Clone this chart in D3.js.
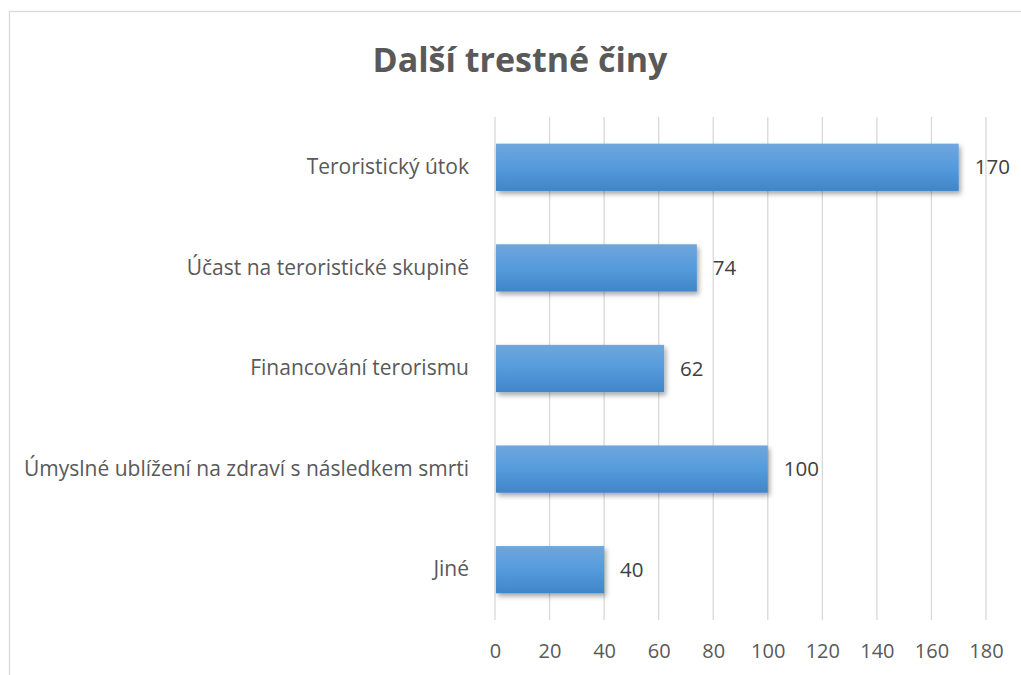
<!DOCTYPE html>
<html>
<head>
<meta charset="utf-8">
<script src="https://cdn.jsdelivr.net/npm/d3@7"></script>
<style>
  body { margin: 0; background: #fff; }
  svg { display: block; font-family: "Open Sans", sans-serif; }
</style>
</head>
<body>
<div class="chart-div"></div>
<script>
'use strict';

var categories = ["Teroristický útok", "Účast na teroristické skupině", "Financování terorismu",
                  "Úmyslné ublížení na zdraví s následkem smrti", "Jiné"];
var values = [170, 74, 62, 100, 40];
var ticks = [0, 20, 40, 60, 80, 100, 120, 140, 160, 180];
var title = "Další trestné činy";

var width = 1021;
var height = 675;
var plot = {left: 495, right: 986, top: 117, bottom: 620};

function drawChart() {
    var svg = d3.select(".chart-div").append("svg")
        .attr("width", width)
        .attr("height", height);

    // gradient + shadow for the bars
    var defs = svg.append("defs");
    var grad = defs.append("linearGradient")
        .attr("id", "barGrad").attr("x1", 0).attr("y1", 0).attr("x2", 0).attr("y2", 1);
    grad.append("stop").attr("offset", "0%").attr("stop-color", "#6fa6dd");
    grad.append("stop").attr("offset", "50%").attr("stop-color", "#559bdc");
    grad.append("stop").attr("offset", "100%").attr("stop-color", "#3f86c8");

    var shadow = defs.append("filter").attr("id", "shadow")
        .attr("x", "-10%").attr("y", "-20%").attr("width", "130%").attr("height", "160%");
    shadow.append("feDropShadow")
        .attr("dx", 2).attr("dy", 3).attr("stdDeviation", 2.5)
        .attr("flood-color", "#000").attr("flood-opacity", 0.35);

    // chart border
    svg.append("rect")
        .attr("x", 9.5).attr("y", 11.5)
        .attr("width", width + 20).attr("height", height + 20)
        .attr("fill", "none").attr("stroke", "#d9d9d9").attr("stroke-width", 1.3);

    var x = d3.scaleLinear().domain([0, 180]).range([plot.left, plot.right]);
    var y = d3.scaleBand().domain(categories).range([plot.top, plot.bottom]).paddingInner(0.53).paddingOuter(0.265);

    // gridlines
    svg.append("g").selectAll("line")
        .data(ticks)
        .enter().append("line")
        .attr("x1", d => x(d)).attr("x2", d => x(d))
        .attr("y1", plot.top).attr("y2", plot.bottom)
        .attr("stroke", "#d9d9d9").attr("stroke-width", 1.3);

    // x axis labels
    var xAxis = d3.axisBottom(x).tickValues(ticks).tickSize(0).tickPadding(24);
    var gx = svg.append("g")
        .attr("transform", "translate(0," + plot.bottom + ")")
        .call(xAxis);
    gx.select(".domain").remove();
    gx.selectAll("text")
        .attr("fill", "#595959")
        .attr("font-size", "20px")
        .attr("font-family", "Open Sans, sans-serif");

    // category labels
    var yAxis = d3.axisLeft(y).tickSize(0).tickPadding(26);
    var gy = svg.append("g")
        .attr("transform", "translate(" + plot.left + ",0)")
        .call(yAxis);
    gy.select(".domain").remove();
    gy.selectAll("text")
        .attr("fill", "#595959")
        .attr("font-size", "21px")
        .attr("font-family", "Open Sans, sans-serif");

    // bars
    svg.append("g").selectAll("rect")
        .data(categories)
        .enter().append("rect")
        .attr("x", x(0) + 1)
        .attr("y", d => y(d))
        .attr("width", (d, i) => x(values[i]) - x(0) - 1)
        .attr("height", y.bandwidth())
        .attr("fill", "url(#barGrad)")
        .attr("filter", "url(#shadow)");

    // value labels
    svg.append("g").selectAll("text")
        .data(categories)
        .enter().append("text")
        .attr("x", (d, i) => x(values[i]) + 16)
        .attr("y", d => y(d) + y.bandwidth() / 2)
        .attr("dy", "0.35em")
        .attr("fill", "#404040")
        .attr("font-size", "20.5px")
        .text((d, i) => values[i]);

    // title
    svg.append("text")
        .attr("x", 520).attr("y", 72)
        .attr("text-anchor", "middle")
        .attr("fill", "#595959")
        .attr("font-size", "34px")
        .attr("font-weight", "bold")
        .text(title);
}

drawChart();
</script>
</body>
</html>
